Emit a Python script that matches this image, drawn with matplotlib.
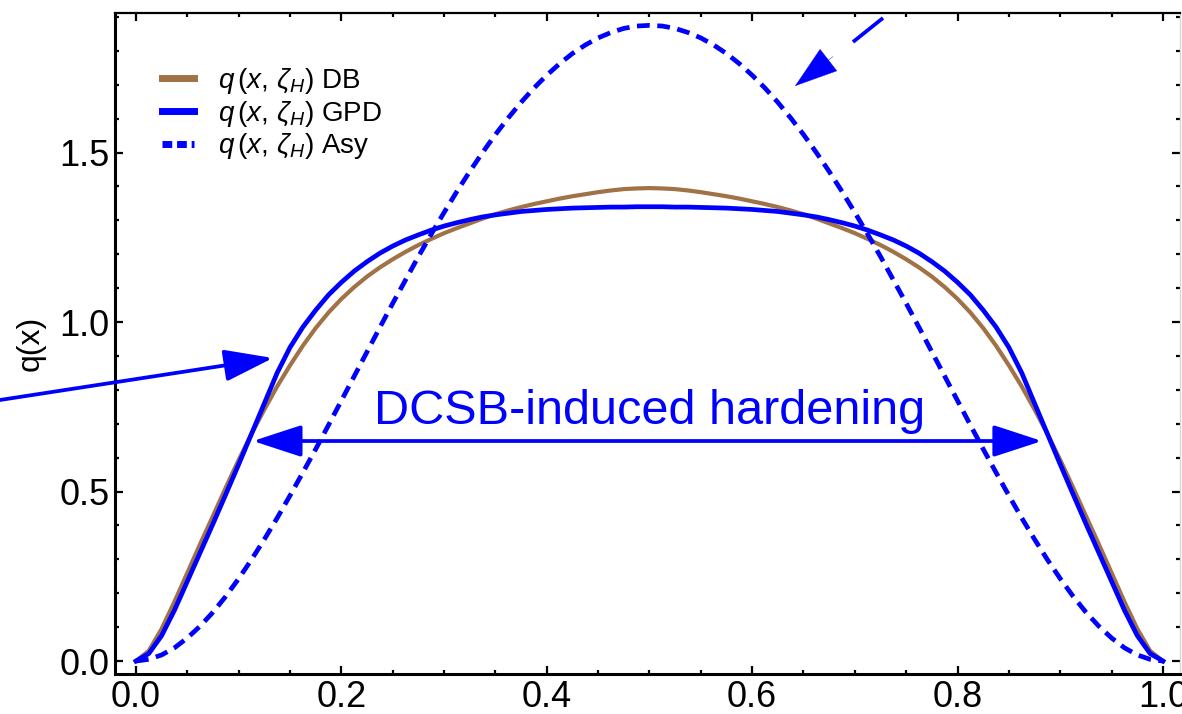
"""Valence-quark distribution q(x) at the hadronic scale: DB, GPD and asymptotic."""
import matplotlib
matplotlib.use("Agg")
import matplotlib.pyplot as plt
from matplotlib.ticker import MultipleLocator, FormatStrFormatter

# values
x = [0.0, 0.0125, 0.025, 0.0375, 0.05, 0.0625, 0.075, 0.0875, 0.1, 0.1125,
     0.125, 0.1375, 0.15, 0.1625, 0.175, 0.1875, 0.2, 0.2125, 0.225, 0.2375,
     0.25, 0.2625, 0.275, 0.2875, 0.3, 0.3125, 0.325, 0.3375, 0.35, 0.3625,
     0.375, 0.3875, 0.4, 0.4125, 0.425, 0.4375, 0.45, 0.4625, 0.475, 0.4875,
     0.5, 0.5125, 0.525, 0.5375, 0.55, 0.5625, 0.575, 0.5875, 0.6, 0.6125,
     0.625, 0.6375, 0.65, 0.6625, 0.675, 0.6875, 0.7, 0.7125, 0.725, 0.7375,
     0.75, 0.7625, 0.775, 0.7875, 0.8, 0.8125, 0.825, 0.8375, 0.85, 0.8625,
     0.875, 0.8875, 0.9, 0.9125, 0.925, 0.9375, 0.95, 0.9625, 0.975, 0.9875, 1.0]
q_db = [0.0, 0.03, 0.095, 0.175, 0.26, 0.345, 0.428, 0.512, 0.593, 0.67,
        0.742, 0.81, 0.872, 0.93, 0.982, 1.028, 1.068, 1.103, 1.134, 1.161,
        1.185, 1.207, 1.227, 1.245, 1.262, 1.277, 1.291, 1.305, 1.318, 1.329,
        1.339, 1.348, 1.356, 1.364, 1.371, 1.377, 1.383, 1.388, 1.392, 1.394,
        1.395, 1.394, 1.392, 1.388, 1.383, 1.377, 1.371, 1.364, 1.356, 1.348,
        1.339, 1.329, 1.318, 1.305, 1.291, 1.277, 1.262, 1.245, 1.227, 1.207,
        1.185, 1.161, 1.134, 1.103, 1.068, 1.028, 0.982, 0.93, 0.872, 0.81,
        0.742, 0.67, 0.593, 0.512, 0.428, 0.345, 0.26, 0.175, 0.095, 0.03, 0.0]
q_gpd = [0.0, 0.022, 0.075, 0.15, 0.235, 0.32, 0.405, 0.492, 0.58, 0.67,
         0.76, 0.85, 0.925, 0.985, 1.035, 1.08, 1.117, 1.15, 1.178, 1.203,
         1.224, 1.242, 1.257, 1.271, 1.283, 1.293, 1.302, 1.31, 1.316, 1.321,
         1.326, 1.329, 1.332, 1.334, 1.336, 1.337, 1.338, 1.339, 1.339, 1.34,
         1.34, 1.34, 1.339, 1.339, 1.338, 1.337, 1.336, 1.334, 1.332, 1.329,
         1.326, 1.321, 1.316, 1.31, 1.302, 1.293, 1.283, 1.271, 1.257, 1.242,
         1.224, 1.203, 1.178, 1.15, 1.117, 1.08, 1.035, 0.985, 0.925, 0.85,
         0.76, 0.67, 0.58, 0.492, 0.405, 0.32, 0.235, 0.15, 0.075, 0.022, 0.0]
q_asy = [0.0, 0.005, 0.018, 0.039, 0.068, 0.103, 0.144, 0.191, 0.243, 0.299,
         0.359, 0.422, 0.488, 0.556, 0.625, 0.696, 0.768, 0.84, 0.912, 0.984,
         1.055, 1.124, 1.193, 1.259, 1.323, 1.385, 1.444, 1.5, 1.553, 1.602,
         1.648, 1.69, 1.728, 1.762, 1.792, 1.817, 1.838, 1.854, 1.866, 1.873,
         1.875, 1.873, 1.866, 1.854, 1.838, 1.817, 1.792, 1.762, 1.728, 1.69,
         1.648, 1.602, 1.553, 1.5, 1.444, 1.385, 1.323, 1.259, 1.193, 1.124,
         1.055, 0.984, 0.912, 0.84, 0.768, 0.696, 0.625, 0.556, 0.488, 0.422,
         0.359, 0.299, 0.243, 0.191, 0.144, 0.103, 0.068, 0.039, 0.018, 0.005, 0.0]
labels = [r"$q\,(x,\,\zeta_H)$ DB", r"$q\,(x,\,\zeta_H)$ GPD", r"$q\,(x,\,\zeta_H)$ Asy"]
note = "DCSB-induced hardening"

BLUE = "#0000ff"
BROWN = "#a07246"

plt.rcParams["font.family"] = ["Liberation Sans", "DejaVu Sans"]
plt.rcParams["mathtext.fontset"] = "custom"
plt.rcParams["mathtext.rm"] = "Liberation Sans"
plt.rcParams["mathtext.it"] = "Liberation Sans:italic"

fig = plt.figure(figsize=(11.82, 7.14), dpi=100)
ax = fig.add_axes([0.0973, 0.056, 0.901, 0.9258])

ax.plot(x, q_db, color=BROWN, lw=3.0, label=labels[0], zorder=2)
ax.plot(x, q_gpd, color=BLUE, lw=3.4, label=labels[1], zorder=3)
ax.plot(x, q_asy, color=BLUE, lw=3.4, ls=(0, (2.7, 1.6)), label=labels[2], zorder=4)

ax.set_xlim(-0.0204, 1.0166)
ax.set_ylim(-0.0383, 1.9115)
ax.xaxis.set_major_locator(MultipleLocator(0.2))
ax.xaxis.set_minor_locator(MultipleLocator(0.05))
ax.yaxis.set_major_locator(MultipleLocator(0.5))
ax.yaxis.set_minor_locator(MultipleLocator(0.1))
ax.xaxis.set_major_formatter(FormatStrFormatter("%.1f"))
ax.yaxis.set_major_formatter(FormatStrFormatter("%.1f"))
ax.tick_params(which="both", direction="in", top=True, right=True, width=1.6,
               labelsize=26, pad=4)
ax.tick_params(which="major", length=5.5)
ax.tick_params(which="minor", length=3)
for side in ["left", "bottom"]:
    ax.spines[side].set_linewidth(2.2)
ax.spines["top"].set_linewidth(1.6)
ax.spines["right"].set_linewidth(1.0)
ax.spines["right"].set_color("#d8d8d8")

ax.text(-0.0789, 0.5, "q(x)", rotation=90, ha="center", va="center",
        transform=ax.transAxes, fontsize=23)

leg = ax.legend(loc="upper left", bbox_to_anchor=(0.044, 0.92), frameon=False,
                fontsize=20, handlelength=1.15, handletextpad=0.86,
                labelspacing=0.1, borderpad=0, borderaxespad=0)
for line in leg.get_lines():
    line.set_linewidth(5)
leg.get_lines()[2].set_linestyle((0, (1.4, 0.7)))


def arrow(tail, tip, style="-|>", lw=2.7):
    ax.annotate("", xy=tip, xytext=tail, annotation_clip=False, zorder=6,
                arrowprops=dict(arrowstyle=f"{style},head_length=30,head_width=9.8",
                                mutation_scale=1, lw=lw, color=BLUE,
                                shrinkA=0, shrinkB=0))


arrow((-0.1324, 0.770), (0.1334, 0.8938))
arrow((0.1139, 0.649), (0.8822, 0.649), style="<|-|>")
# top-right pointer: short shaft with a detached head
ax.plot([0.7274, 0.6982], [1.8968, 1.8260], color=BLUE, lw=2.7,
        solid_capstyle="butt", zorder=6)
arrow((0.6787, 1.783), (0.6417, 1.696), lw=0.3)

ax.text(0.5, 0.70, note, color=BLUE, fontsize=35, ha="center", va="baseline", zorder=7)

fig.savefig("out.png", dpi=100)
